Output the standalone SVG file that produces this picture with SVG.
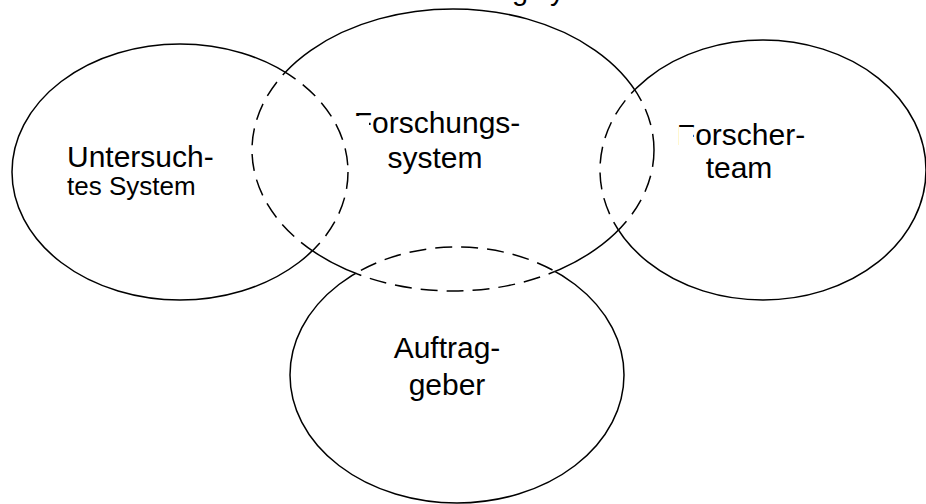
<svg xmlns="http://www.w3.org/2000/svg" width="926" height="504" viewBox="0 0 926 504">
<style>
.solid{fill:none;stroke:#000;stroke-width:1.5}
.dash{fill:none;stroke:#000;stroke-width:1.5;stroke-dasharray:17 9}
.lbl{font-family:"Liberation Sans",Arial,sans-serif;font-size:29px;fill:#000}
</style>
<defs>
<clipPath id="inB"><ellipse cx="453" cy="150" rx="201" ry="141"/></clipPath>
<clipPath id="inACD">
<ellipse cx="180" cy="172" rx="168" ry="128"/>
<ellipse cx="763" cy="170" rx="163" ry="130"/>
<ellipse cx="457" cy="375" rx="167" ry="128"/>
</clipPath>
<mask id="outB" maskUnits="userSpaceOnUse" x="0" y="0" width="926" height="504">
<rect width="926" height="504" fill="#fff"/>
<ellipse cx="453" cy="150" rx="201" ry="141" fill="#000"/>
</mask>
<mask id="outACD" maskUnits="userSpaceOnUse" x="0" y="0" width="926" height="504">
<rect width="926" height="504" fill="#fff"/>
<ellipse cx="180" cy="172" rx="168" ry="128" fill="#000"/>
<ellipse cx="763" cy="170" rx="163" ry="130" fill="#000"/>
<ellipse cx="457" cy="375" rx="167" ry="128" fill="#000"/>
</mask>
</defs>
<rect width="926" height="504" fill="#fff"/>
<text class="lbl" font-size="22" y="0"><tspan x="512">g</tspan><tspan x="550">y</tspan></text>
<g id="untersuchtes-system">
<ellipse class="solid" cx="180" cy="172" rx="168" ry="128" mask="url(#outB)"/>
<ellipse class="dash" cx="180" cy="172" rx="168" ry="128" clip-path="url(#inB)"/>
<text class="lbl" x="67" y="167" style="font-size:30px">Untersuch-</text>
<text class="lbl" x="67" y="195" style="font-size:26px">tes System</text>
</g>
<g id="forschungssystem">
<ellipse class="solid" cx="453" cy="150" rx="201" ry="141" mask="url(#outACD)"/>
<ellipse class="dash" cx="453" cy="150" rx="201" ry="141" clip-path="url(#inACD)"/>
<text class="lbl" x="437" y="133" text-anchor="middle" style="font-size:30px">Forschungs-</text>
<rect x="351" y="116" width="18" height="20" fill="#fff"/>
<text class="lbl" x="435" y="168" text-anchor="middle" style="font-size:30px">system</text>
</g>
<g id="forscherteam">
<ellipse class="solid" cx="763" cy="170" rx="163" ry="130" mask="url(#outB)"/>
<ellipse class="dash" cx="763" cy="170" rx="163" ry="130" clip-path="url(#inB)"/>
<text class="lbl" x="741" y="145" text-anchor="middle" style="font-size:30px">Forscher-</text>
<rect x="679" y="127" width="14" height="20" fill="#fff"/>
<text class="lbl" x="739" y="178" text-anchor="middle" style="font-size:30px">team</text>
</g>
<g id="auftraggeber">
<ellipse class="solid" cx="457" cy="375" rx="167" ry="128" mask="url(#outB)"/>
<ellipse class="dash" cx="457" cy="375" rx="167" ry="128" clip-path="url(#inB)"/>
<text class="lbl" x="447" y="358" text-anchor="middle" style="font-size:30px">Auftrag-</text>
<text class="lbl" x="447" y="395" text-anchor="middle" style="font-size:30px">geber</text>
</g>
</svg>
